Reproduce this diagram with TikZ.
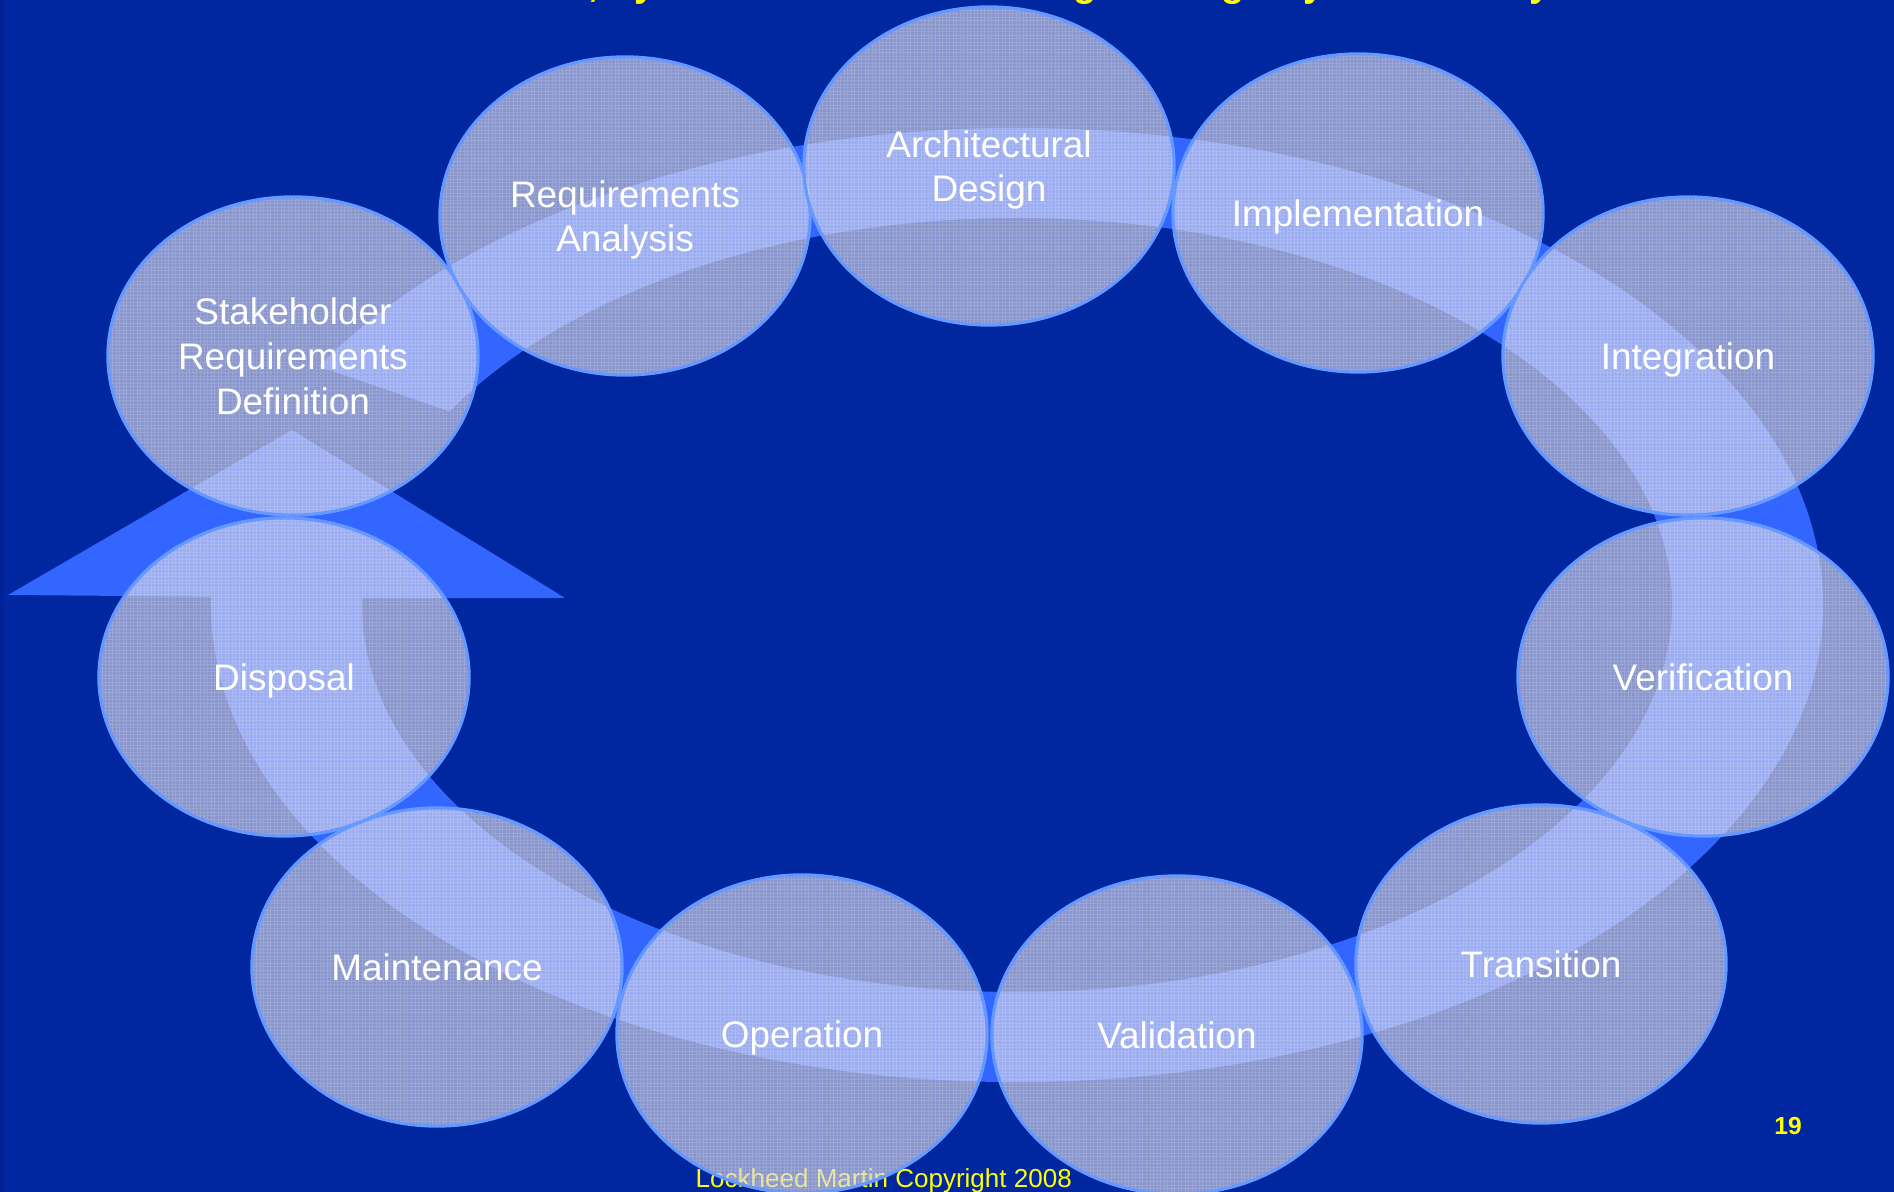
\documentclass[tikz,border=0pt]{standalone}
\usepackage{fontspec}
\setmainfont{Liberation Sans}
\usetikzlibrary{shapes.geometric,calc,patterns.meta}

\definecolor{slidebg}{RGB}{0,38,160}
\definecolor{slideedge}{RGB}{0,34,150}
\definecolor{bandblue}{RGB}{51,102,255}
\definecolor{rimblue}{RGB}{102,153,255}
\definecolor{cloud}{RGB}{215,214,232}
\definecolor{slideyellow}{RGB}{255,255,0}

\begin{document}
\begin{tikzpicture}
[
	x=0.01cm,
	y=-0.01cm,
	phase/.style={ellipse,draw=rimblue,line width=0.9pt,fill=cloud,fill opacity=0.64,
		text opacity=1,text=white,minimum width=3.7cm,minimum height=3.18cm,inner sep=0pt,
		align=center,text depth=0pt,font=\fontsize{10.5}{12.7}\selectfont,
		path picture={\fill[opacity=0.16,pattern={Hatch[angle=0,distance=1pt,line width=0.25pt]},pattern color=white]
			(path picture bounding box.south west) rectangle (path picture bounding box.north east);}},
	band/.style={fill=bandblue},
	yellowtext/.style={text=slideyellow,inner sep=0pt}
]

	\useasboundingbox (0,0) rectangle (1894,1192);
	\clip (0,0) rectangle (1894,1192);
	\fill[slidebg] (0,0) rectangle (1894,1192);
	\fill[slideedge] (0,0) rectangle (4,1192);

	% title, cut off by the top edge
	\node[yellowtext,anchor=base west,font=\bfseries\fontsize{10.8}{13}\selectfont] (title) at (332,-3)
		{ISO/IEC 15288, Systems and Software Engineering - System Life Cycle Processes};

	% ring arrow
	\coordinate (ringc) at (1017,605);
	\fill[band]
	  ($(ringc)+(210:806 and 477)$) arc[start angle=210,end angle=541,x radius=806,y radius=477]
	  -- (8,595) -- (292,430) -- (565,598)
	  -- ($(ringc)+(541:655 and 387)$) arc[start angle=541,end angle=210,x radius=655,y radius=387]
	  -- cycle;

	\node[yellowtext,anchor=base west,font=\fontsize{7.4}{9}\selectfont] (copyright) at (695,1187)
		{Lockheed Martin Copyright 2008};
	\node[yellowtext,anchor=base,font=\bfseries\fontsize{7}{8}\selectfont] (pagenum) at (1788,1134) {19};

	% life cycle processes
	\node[phase] (srd) at (293,356) {Stakeholder\\Requirements\\Definition};
	\node[phase] (reqan) at (625,216) {Requirements\\Analysis};
	\node[phase] (archd) at (989,166) {Architectural\\Design};
	\node[phase] (impl) at (1358,213) {Implementation};
	\node[phase] (integ) at (1688,356) {Integration};
	\node[phase] (verif) at (1703,677) {Verification};
	\node[phase] (trans) at (1541,964) {Transition};
	\node[phase] (valid) at (1177,1035) {Validation};
	\node[phase] (oper) at (802,1034) {Operation};
	\node[phase] (maint) at (437,967) {Maintenance};
	\node[phase] (disp) at (284,677) {Disposal};

\end{tikzpicture}
\end{document}
